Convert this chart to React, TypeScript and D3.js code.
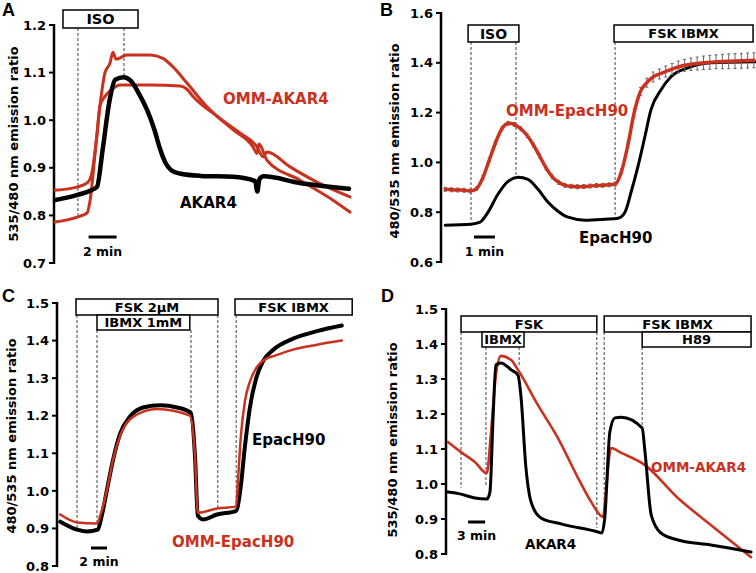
import React from 'react';
import * as d3 from 'd3';

type P = [number, number];

const RED = '#c8321e';

// ---------- Panel A (time in min, ratio) ----------
const aTicks = [0.7, 0.8, 0.9, 1.0, 1.1, 1.2];
const aAkar4: P[] = [[0,0.832],[1.6,0.843],[2.6,0.853],[3.0,0.86],[3.4,0.937],[3.9,1.042],[4.3,1.085],[4.9,1.09],[5.4,1.083],[6.1,1.05],[6.6,1.02],[7.1,0.98],[7.5,0.94],[7.9,0.91],[8.3,0.895],[8.9,0.888],[10.4,0.883],[12.7,0.881],[14.3,0.872],[14.45,0.85],[14.6,0.876],[14.9,0.882],[17.5,0.868],[21,0.856]];
const aOmm1: P[] = [[0,0.786],[1.64,0.797],[2.29,0.805],[2.5,0.83],[2.86,0.93],[3.21,1.03],[3.57,1.10],[3.93,1.12],[4.14,1.143],[4.36,1.128],[5.14,1.137],[6.79,1.137],[7.71,1.13],[8.43,1.112],[9.43,1.078],[10.86,1.028],[12.71,0.98],[14.14,0.944],[14.43,0.93],[14.57,0.95],[15.14,0.916],[17.5,0.874],[19.86,0.832],[21.07,0.807]];
const aOmm2: P[] = [[0,0.853],[1.64,0.86],[2.36,0.87],[2.64,0.89],[3.0,0.97],[3.21,1.03],[3.57,1.05],[4.07,1.065],[4.64,1.074],[6.79,1.074],[8.93,1.072],[9.43,1.065],[9.86,1.05],[11.64,1.007],[13.21,0.973],[14.43,0.944],[14.86,0.923],[15.14,0.933],[16.79,0.902],[18.71,0.87],[21.07,0.839]];

// ---------- Panel B ----------
const bTicks = [0.6, 0.8, 1.0, 1.2, 1.4, 1.6];
const bEpac: P[] = [[0.2,0.748],[1.43,0.752],[1.86,0.76],[2.24,0.80],[2.71,0.872],[3.19,0.924],[3.67,0.94],[4.14,0.932],[4.62,0.892],[5.1,0.84],[5.57,0.804],[6.05,0.78],[6.86,0.768],[7.81,0.772],[8.43,0.776],[8.76,0.80],[9.05,0.88],[9.38,0.984],[9.71,1.104],[10.0,1.212],[10.48,1.292],[10.95,1.344],[11.76,1.38],[12.86,1.40],[14.95,1.404]];
const bOmm: P[] = [[0.2,0.892],[0.5,0.89],[0.8,0.889],[1.1,0.888],[1.4,0.885],[1.7,0.895],[2.0,0.94],[2.3,1.01],[2.6,1.08],[2.9,1.135],[3.2,1.157],[3.5,1.152],[3.8,1.135],[4.1,1.108],[4.4,1.07],[4.7,1.025],[5.0,0.978],[5.3,0.942],[5.6,0.92],[5.9,0.908],[6.2,0.904],[6.5,0.902],[6.8,0.903],[7.1,0.905],[7.4,0.907],[7.7,0.908],[8.0,0.91],[8.3,0.913],[8.6,0.965],[8.9,1.07],[9.2,1.2],[9.5,1.285],[9.8,1.32],[10.1,1.343],[10.4,1.355],[10.7,1.365],[11.0,1.375],[11.3,1.383],[11.6,1.39],[11.9,1.394],[12.2,1.397],[12.5,1.4],[12.8,1.402],[13.1,1.404],[13.4,1.405],[13.7,1.406],[14.0,1.407],[14.3,1.408],[14.6,1.409],[14.9,1.41]];
const bOmmErr: number[] = [0.008,0.008,0.008,0.008,0.008,0.008,0.008,0.008,0.008,0.008,0.008,0.008,0.008,0.008,0.008,0.008,0.008,0.008,0.008,0.008,0.008,0.008,0.008,0.008,0.008,0.008,0.008,0.008,0.01,0.012,0.014,0.016,0.018,0.02,0.02,0.022,0.022,0.024,0.024,0.025,0.026,0.027,0.028,0.028,0.029,0.03,0.03,0.03,0.03,0.03];

// ---------- Panel C ----------
const cTicks = [0.8, 0.9, 1.0, 1.1, 1.2, 1.3, 1.4, 1.5];
const cEpac: P[] = [[0.4,0.918],[2.5,0.897],[3.75,0.892],[5.1,0.897],[5.6,0.934],[6.25,1.003],[7.0,1.082],[7.9,1.153],[9.1,1.197],[10.75,1.222],[12.9,1.228],[15.0,1.222],[16.75,1.207],[17.25,1.092],[17.6,0.934],[18.25,0.924],[20.0,0.937],[22.4,0.947],[22.9,1.0],[23.5,1.12],[24.1,1.22],[24.9,1.3],[25.75,1.345],[27.0,1.375],[29.5,1.405],[32.5,1.425],[35.6,1.44]];
const cOmm: P[] = [[0.4,0.937],[2.5,0.916],[5.0,0.913],[5.4,0.934],[6.25,1.003],[7.0,1.082],[7.9,1.147],[9.5,1.197],[12.5,1.218],[16.6,1.2],[17.25,1.092],[17.6,0.942],[20.0,0.953],[22.4,0.958],[22.6,1.02],[23.0,1.15],[23.5,1.24],[24.1,1.29],[25.0,1.33],[26.0,1.35],[27.25,1.36],[29.5,1.376],[32.5,1.389],[35.6,1.4]];

// ---------- Panel D ----------
const dTicks = [0.8, 0.9, 1.0, 1.1, 1.2, 1.3, 1.4, 1.5];
const dAkar4: P[] = [[0.35,0.977],[2.65,0.971],[5.1,0.96],[7.2,0.957],[7.75,0.977],[8.3,1.189],[8.8,1.34],[9.7,1.346],[11.5,1.326],[12.7,1.311],[13.2,1.254],[14.1,1.046],[15.0,0.949],[16.75,0.903],[20.3,0.886],[26.8,0.863],[27.5,0.86],[28.0,0.903],[28.9,1.149],[29.8,1.189],[30.9,1.191],[34.6,1.16],[35.1,1.091],[36.2,0.911],[37.9,0.86],[40.9,0.84],[46.7,0.826],[53.8,0.806]];
const dOmm: P[] = [[0.35,1.12],[2.65,1.091],[5.1,1.063],[7.2,1.031],[7.9,1.14],[8.8,1.311],[9.7,1.366],[11.5,1.354],[12.7,1.326],[16.2,1.226],[19.75,1.131],[23.3,1.017],[25.6,0.949],[27.7,0.906],[28.2,0.977],[29.1,1.103],[30.9,1.089],[35.1,1.054],[40.9,0.96],[46.7,0.883],[53.8,0.791]];

const FONT = "'DejaVu Sans', Verdana, sans-serif";

interface Box { t0: number; t1: number; top: number; bottom: number; label: string; size?: number }
interface Dash { t: number; top: number; v: number }
interface Series { data: P[]; color: string; width: number; err?: number[] }
interface Lbl { text: string; x: number; y: number; color: string; size: number }
interface Cfg {
  letter: string; lx: number; ly: number;
  axisX: number; yDomain: [number, number]; yRange: [number, number]; ticks: number[]; fmt: string;
  x0: number; ppm: number;
  yLabel: string; ylx: number; yly: number;
  boxes: Box[]; dashes: Dash[]; series: Series[];
  bar: { t0: number; t1: number; y: number; text: string; ty: number };
  labels: Lbl[];
}

const panels: Cfg[] = [
  {
    letter: 'A', lx: 2, ly: 16,
    axisX: 54, yDomain: [0.7, 1.2], yRange: [263, 25], ticks: aTicks, fmt: '.1f',
    x0: 55, ppm: 14,
    yLabel: '535/480 nm emission ratio', ylx: 13, yly: 144,
    boxes: [{ t0: 0.57, t1: 5.93, top: 10, bottom: 28, label: 'ISO', size: 14.5 }],
    dashes: [{ t: 1.64, top: 28, v: 0.8 }, { t: 4.93, top: 28, v: 1.09 }],
    series: [
      { data: aOmm1, color: RED, width: 3 },
      { data: aOmm2, color: RED, width: 3 },
      { data: aAkar4, color: '#000', width: 4.5 },
    ],
    bar: { t0: 2.4, t1: 4.4, y: 237, text: '2 min', ty: 256 },
    labels: [
      { text: 'OMM-AKAR4', x: 223, y: 104, color: RED, size: 15 },
      { text: 'AKAR4', x: 180, y: 208, color: '#000', size: 15 },
    ],
  },
  {
    letter: 'B', lx: 380, ly: 16,
    axisX: 441, yDomain: [0.6, 1.6], yRange: [262, 13], ticks: bTicks, fmt: '.1f',
    x0: 441, ppm: 21,
    yLabel: '480/535 nm emission ratio', ylx: 394, yly: 141,
    boxes: [
      { t0: 1.29, t1: 3.71, top: 25, bottom: 42, label: 'ISO', size: 14 },
      { t0: 8.24, t1: 14.86, top: 25, bottom: 42, label: 'FSK IBMX' },
    ],
    dashes: [{ t: 1.43, top: 42, v: 0.76 }, { t: 3.57, top: 42, v: 0.944 }, { t: 8.29, top: 42, v: 0.784 }],
    series: [
      { data: bEpac, color: '#000', width: 3 },
      { data: bOmm, color: RED, width: 3.5, err: bOmmErr },
    ],
    bar: { t0: 1.57, t1: 2.57, y: 237, text: '1 min', ty: 256 },
    labels: [
      { text: 'OMM-EpacH90', x: 506, y: 116, color: RED, size: 15 },
      { text: 'EpacH90', x: 579, y: 243, color: '#000', size: 15 },
    ],
  },
  {
    letter: 'C', lx: 2, ly: 302,
    axisX: 57, yDomain: [0.8, 1.5], yRange: [566, 303], ticks: cTicks, fmt: '.1f',
    x0: 57, ppm: 8,
    yLabel: '480/535 nm emission ratio', ylx: 11, yly: 436,
    boxes: [
      { t0: 2.375, t1: 20.125, top: 299, bottom: 315, label: 'FSK 2μM' },
      { t0: 5.0, t1: 16.6, top: 315, bottom: 330, label: 'IBMX 1mM' },
      { t0: 22.25, t1: 36.9, top: 299, bottom: 315, label: 'FSK IBMX' },
    ],
    dashes: [
      { t: 2.5, top: 315, v: 0.897 }, { t: 5.0, top: 330, v: 0.916 }, { t: 16.75, top: 330, v: 1.2 },
      { t: 20.1, top: 315, v: 0.955 }, { t: 22.4, top: 315, v: 0.96 },
    ],
    series: [
      { data: cEpac, color: '#000', width: 4 },
      { data: cOmm, color: RED, width: 2.5 },
    ],
    bar: { t0: 4.25, t1: 6.25, y: 548, text: '2 min', ty: 566 },
    labels: [
      { text: 'EpacH90', x: 252, y: 445, color: '#000', size: 15 },
      { text: 'OMM-EpacH90', x: 172, y: 547, color: RED, size: 15 },
    ],
  },
  {
    letter: 'D', lx: 381, ly: 302,
    axisX: 446, yDomain: [0.8, 1.5], yRange: [554, 309], ticks: dTicks, fmt: '.1f',
    x0: 446, ppm: 5.67,
    yLabel: '535/480 nm emission ratio', ylx: 392, yly: 440,
    boxes: [
      { t0: 2.65, t1: 26.6, top: 316, bottom: 332, label: 'FSK' },
      { t0: 6.35, t1: 13.76, top: 332, bottom: 347, label: 'IBMX' },
      { t0: 27.9, t1: 53.8, top: 316, bottom: 332, label: 'FSK IBMX' },
      { t0: 34.6, t1: 53.8, top: 332, bottom: 347, label: 'H89' },
    ],
    dashes: [
      { t: 2.65, top: 332, v: 0.989 }, { t: 7.05, top: 347, v: 0.997 }, { t: 12.9, top: 347, v: 1.334 },
      { t: 26.6, top: 332, v: 0.874 }, { t: 27.9, top: 332, v: 0.911 }, { t: 34.6, top: 347, v: 1.149 },
    ],
    series: [
      { data: dOmm, color: RED, width: 2.6 },
      { data: dAkar4, color: '#000', width: 3 },
    ],
    bar: { t0: 3.9, t1: 6.9, y: 522, text: '3 min', ty: 540 },
    labels: [
      { text: 'OMM-AKAR4', x: 651, y: 472, color: RED, size: 13.5 },
      { text: 'AKAR4', x: 525, y: 549, color: '#000', size: 13.5 },
    ],
  },
];

function Panel({ c }: { c: Cfg }) {
  const y = d3.scaleLinear().domain(c.yDomain).range(c.yRange);
  const x = d3.scaleLinear().domain([0, 1]).range([c.x0, c.x0 + c.ppm]);
  const line = d3.line<P>().x(d => x(d[0])).y(d => y(d[1])).curve(d3.curveMonotoneX);
  const fmt = d3.format(c.fmt);
  return (
    <g>
      <text x={c.lx} y={c.ly} fontFamily="'Liberation Sans', Arial, sans-serif" fontWeight="bold" fontSize={18}>{c.letter}</text>
      <line x1={c.axisX} x2={c.axisX} y1={y(c.yDomain[1]) - 1} y2={y(c.yDomain[0]) + 1} stroke="#000" strokeWidth={2.5} />
      {c.ticks.map(t => (
        <g key={t}>
          <line x1={c.axisX - 5} x2={c.axisX} y1={y(t)} y2={y(t)} stroke="#000" strokeWidth={2} />
          <text x={c.axisX - 8} y={y(t)} dy="0.36em" textAnchor="end" fontFamily={FONT} fontWeight="bold" fontSize={13}>{fmt(t)}</text>
        </g>
      ))}
      <text transform={`translate(${c.ylx},${c.yly}) rotate(-90)`} textAnchor="middle" dy="0.36em" fontFamily={FONT} fontWeight="bold" fontSize={13}>{c.yLabel}</text>
      {c.dashes.map((d, i) => (
        <line key={i} x1={x(d.t)} x2={x(d.t)} y1={d.top} y2={y(d.v)} stroke="#444" strokeWidth={1} strokeDasharray="3,2" />
      ))}
      {c.boxes.map((b, i) => (
        <g key={i}>
          <rect x={x(b.t0)} y={b.top} width={x(b.t1) - x(b.t0)} height={b.bottom - b.top} fill="#fff" stroke="#000" strokeWidth={1.5} />
          <text x={(x(b.t0) + x(b.t1)) / 2} y={(b.top + b.bottom) / 2} dy="0.36em" textAnchor="middle" fontFamily={FONT} fontWeight="bold" fontSize={b.size ?? 13}>{b.label}</text>
        </g>
      ))}
      {c.series.map((s, i) => (
        <g key={i}>
          {s.err && s.data.map((d, j) => (
            <g key={j} stroke="#666" strokeWidth={1}>
              <line x1={x(d[0])} x2={x(d[0])} y1={y(d[1] - s.err![j])} y2={y(d[1] + s.err![j])} />
              <line x1={x(d[0]) - 1.5} x2={x(d[0]) + 1.5} y1={y(d[1] + s.err![j])} y2={y(d[1] + s.err![j])} />
              <line x1={x(d[0]) - 1.5} x2={x(d[0]) + 1.5} y1={y(d[1] - s.err![j])} y2={y(d[1] - s.err![j])} />
            </g>
          ))}
          <path d={line(s.data) ?? ''} fill="none" stroke={s.color} strokeWidth={s.width} strokeLinejoin="round" strokeLinecap="round" />
        </g>
      ))}
      <line x1={x(c.bar.t0)} x2={x(c.bar.t1)} y1={c.bar.y} y2={c.bar.y} stroke="#000" strokeWidth={3} />
      <text x={(x(c.bar.t0) + x(c.bar.t1)) / 2} y={c.bar.ty} textAnchor="middle" fontFamily={FONT} fontWeight="bold" fontSize={12.5}>{c.bar.text}</text>
      {c.labels.map((l, i) => (
        <text key={i} x={l.x} y={l.y} fill={l.color} fontFamily={FONT} fontWeight="bold" fontSize={l.size}>{l.text}</text>
      ))}
    </g>
  );
}

export default function App() {
  return (
    <svg width={756} height={573} style={{ position: 'absolute', left: 0, top: 0, background: '#fff' }}>
      <rect width={756} height={573} fill="#fff" />
      {panels.map(p => <Panel key={p.letter} c={p} />)}
    </svg>
  );
}
